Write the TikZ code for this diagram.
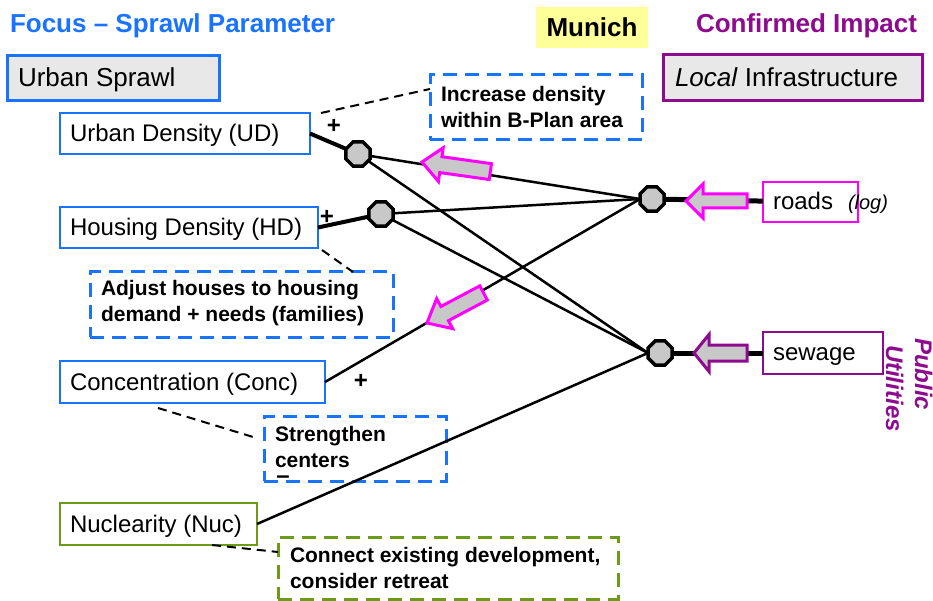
\documentclass[tikz,border=0pt]{standalone}
\usepackage{fontspec}
\setmainfont{Liberation Sans}
\usetikzlibrary{shapes.geometric,calc}

\definecolor{sprawlblue}{HTML}{1A73FF}
\definecolor{impactpurple}{HTML}{8E0A8E}
\definecolor{flowmagenta}{HTML}{FF00FF}
\definecolor{nucgreen}{HTML}{6A9C1A}
\definecolor{headgray}{HTML}{E8E8E8}
\definecolor{nodegray}{HTML}{C8C8C8}
\definecolor{citybg}{HTML}{FFFF99}

% block arrow: tip x, tip y, rotation, length, head length, head half-width, shaft half-width, colour
\newcommand\flowarrow[8]{%
  \begin{scope}[shift={(#1,#2)},rotate=#3]
    \draw[flowbody,draw=#8] (0,0) -- (#5,#6) -- (#5,#7) -- (#4,#7) -- (#4,-#7)
      -- (#5,-#7) -- (#5,-#6) -- cycle;
  \end{scope}}

\tikzset{
  every node/.style={outer sep=0pt},
  headbox/.style={draw, line width=3pt, fill=headgray, anchor=north west, inner sep=0pt},
  parbox/.style={draw=sprawlblue, line width=2.7pt, fill=white, anchor=north west, inner sep=0pt},
  boxtext/.style={anchor=base west, inner sep=0pt, font=\fontsize{24}{28}\selectfont},
  headtext/.style={anchor=base west, inner sep=0pt, font=\fontsize{26}{30}\selectfont},
  titletext/.style={anchor=base west, inner sep=0pt, font=\fontsize{26}{30}\selectfont\bfseries},
  notebox/.style={draw=sprawlblue, line width=3pt, dash pattern=on 14pt off 8pt, anchor=north west, inner sep=0pt},
  notetext/.style={anchor=west, inner sep=0pt, align=left, font=\fontsize{21}{26}\selectfont\bfseries},
  junction/.style={regular polygon, regular polygon sides=8, minimum size=26pt, inner sep=0pt,
    draw, line width=3.5pt, fill=nodegray},
  link/.style={line width=2.5pt},
  strong/.style={line width=4pt},
  strongest/.style={line width=5pt},
  notelink/.style={line width=2pt, dash pattern=on 9pt off 6pt},
  flowbody/.style={line width=3pt, fill=nodegray, line join=miter},
  sign/.style={inner sep=0pt, font=\fontsize{24}{28}\selectfont\bfseries},
  sidetext/.style={rotate=-90, anchor=base west, inner sep=0pt,
    font=\fontsize{24}{28}\selectfont\bfseries\itshape, text=impactpurple},
}

\begin{document}
\begin{tikzpicture}[x=1pt,y=-1pt]
\useasboundingbox (0,0) rectangle (933,601);
\fill[white] (0,0) rectangle (933,601);

% headings
\node[titletext, text=sprawlblue] (title) at (10,33) {Focus – Sprawl Parameter};
\node[titletext, text=impactpurple] (impact) at (696,33) {Confirmed Impact};
\node[fill=citybg, anchor=north west, minimum width=112pt, minimum height=41pt, inner sep=0pt,
  font=\fontsize{26}{30}\selectfont\bfseries] (munich) at (536,7) {Munich};

\node[headbox, draw=sprawlblue, minimum width=212pt, minimum height=45pt] (sprawl) at (7,56) {};
\node[headtext] (sprawltxt) at ($(sprawl.west)+(11,8)$) {Urban Sprawl};
\node[headbox, draw=impactpurple, minimum width=259pt, minimum height=46pt] (infra) at (663,55) {};
\node[headtext] (infratxt) at ($(infra.west)+(12,9)$) {\textit{Local} Infrastructure};

% sprawl parameters
\node[parbox, minimum width=250pt, minimum height=41pt] (ud) at (60,113) {};
\node[boxtext] (udtxt) at ($(ud.west)+(10,8.5)$) {Urban Density (UD)};
\node[parbox, minimum width=258pt, minimum height=41pt] (hd) at (60,207) {};
\node[boxtext] (hdtxt) at ($(hd.west)+(10,8.5)$) {Housing Density (HD)};
\node[parbox, minimum width=265pt, minimum height=42pt] (conc) at (60,361) {};
\node[boxtext] (conctxt) at ($(conc.west)+(10,8.5)$) {Concentration (Conc)};
\node[parbox, draw=nucgreen, minimum width=197pt, minimum height=42pt] (nuc) at (60,503) {};
\node[boxtext] (nuctxt) at ($(nuc.west)+(10,8.5)$) {Nuclearity (Nuc)};

% infrastructure items
\node[parbox, draw=flowmagenta, minimum width=95pt, minimum height=40pt] (roads) at (763,182) {};
\node[boxtext] (roadstxt) at ($(roads.west)+(10,7.5)$) {roads};
\node[anchor=west, inner sep=0pt, font=\fontsize{20}{24}\selectfont\itshape] (logtxt) at (848,204) {(log)};
\node[parbox, draw=impactpurple, minimum width=120pt, minimum height=42pt] (sewage) at (763,332) {};
\node[boxtext] (sewagetxt) at ($(sewage.west)+(10,7.5)$) {sewage};
\node[sidetext] (public) at (915,338) {Public};
\node[sidetext] (utilities) at (886,345) {Utilities};

% measures
\node[notebox, minimum width=212pt, minimum height=65pt] (inc) at (430,75) {};
\node[notetext] (inctxt) at ($(inc.west)+(11,-1)$) {Increase density\\within B-Plan area};
\node[notebox, minimum width=303pt, minimum height=65pt] (adj) at (90,272) {};
\node[notetext] (adjtxt) at ($(adj.west)+(11,-1)$) {Adjust houses to housing\\demand + needs (families)};
\node[notebox, minimum width=182pt, minimum height=65pt] (str) at (264,416) {};
\node[notetext] (strtxt) at ($(str.west)+(11,-2)$) {Strengthen\\centers};
\node[notebox, draw=nucgreen, minimum width=340pt, minimum height=62pt] (con) at (278,537) {};
\node[notetext] (contxt) at ($(con.west)+(12,0)$) {Connect existing development,\\consider retreat};

% junctions
\node[junction] (j1) at (358,154) {};
\node[junction] (j2) at (381,214) {};
\node[junction] (j3) at (652,199) {};
\node[junction] (j4) at (660,353) {};

% links between parameters and infrastructure
\draw[strong] (ud.east) -- (j1);
\draw[strong] (hd.east) -- (j2);
\draw[link] (j1) -- (j3.west);
\draw[link] (j1) -- (j4.west);
\draw[link] (j2) -- (j3.west);
\draw[link] (j2) -- (j4.west);
\draw[link] (conc.east) -- (j3.west);
\draw[link] (nuc.east) -- (j4.west);
\draw[strongest] (j3) -- (roads);
\draw[strongest] (j4) -- (sewage);

% measures attached to parameters
\draw[notelink] ($(ud.north east)+(11,0)$) -- ($(inc.north west)+(0,14)$);
\draw[notelink] ($(hd.south east)+(4,2)$) -- ($(adj.north west)+(263,0)$);
\draw[notelink] ($(conc.south west)+(98,5)$) -- ($(str.west)+(-6,-10)$);
\draw[notelink] ($(nuc.south east)+(-45,0)$) -- ($(con.north west)+(0,15)$);

% signs
\node[sign] (udsign) at (334,126) {+};
\node[sign] (hdsign) at (327,217) {+};
\node[sign] (concsign) at (361,381) {+};
\node[sign] (nucsign) at (283,480) {–};

% effect arrows
\flowarrow{422}{162}{-8}{69}{19}{17}{8}{flowmagenta}
\flowarrow{427}{323}{28}{64}{20}{17}{8}{flowmagenta}
\flowarrow{686}{201}{0}{61}{17}{17}{7}{flowmagenta}
\flowarrow{694}{353}{0}{53}{15}{18.5}{8}{impactpurple}
\end{tikzpicture}
\end{document}
